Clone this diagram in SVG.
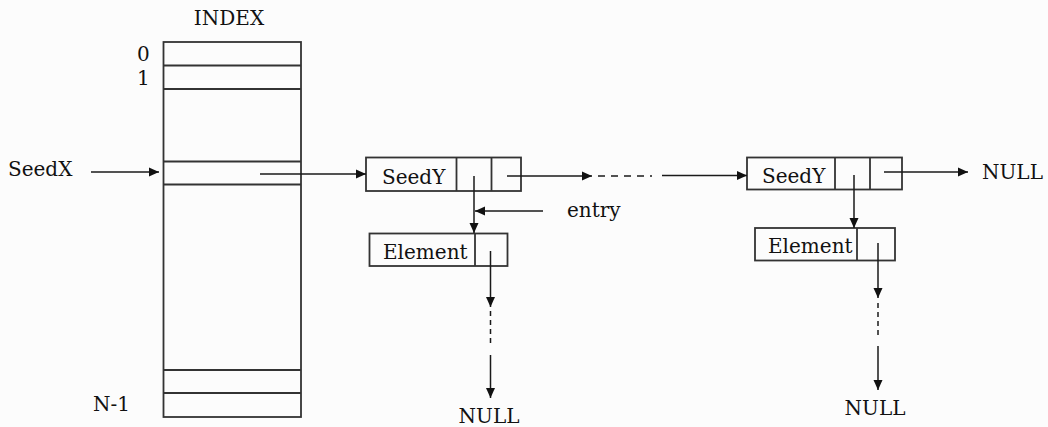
<svg xmlns="http://www.w3.org/2000/svg" width="1048" height="427" viewBox="0 0 1048 427">
<style>
.box{fill:none;stroke:#333;stroke-width:1.8}
.ln{fill:none;stroke:#1a1a1a;stroke-width:1.5}
.dash{fill:none;stroke:#1a1a1a;stroke-width:1.5;stroke-dasharray:7 6}
.vdash{fill:none;stroke:#1a1a1a;stroke-width:1.5;stroke-dasharray:5 4}
text{font-family:"DejaVu Serif","Liberation Serif",serif;font-size:20px;fill:#111}
</style>
<defs>
<marker id="ah" markerUnits="userSpaceOnUse" markerWidth="11" markerHeight="11" refX="10" refY="5" orient="auto">
<path d="M0,0.5 L10,5 L0,9.5 z" fill="#111"/>
</marker>
</defs>
<rect width="1048" height="427" fill="#fcfcfc"/>
<g id="index">
<text x="229" y="25" text-anchor="middle">INDEX</text>
<rect class="box" x="163.5" y="42" width="137.5" height="375"/>
<line class="box" x1="163.5" y1="65.5" x2="301" y2="65.5"/>
<line class="box" x1="163.5" y1="89" x2="301" y2="89"/>
<line class="box" x1="163.5" y1="161.5" x2="301" y2="161.5"/>
<line class="box" x1="163.5" y1="184.5" x2="301" y2="184.5"/>
<line class="box" x1="163.5" y1="370" x2="301" y2="370"/>
<line class="box" x1="163.5" y1="393" x2="301" y2="393"/>
<text x="137" y="61">0</text>
<text x="137" y="85">1</text>
<text x="93" y="411">N-1</text>
</g>
<g id="seedx">
<text x="8" y="176">SeedX</text>
</g>
<g id="seedy1">
<rect class="box" x="366" y="157.5" width="155" height="33.5"/>
<line class="box" x1="456.5" y1="157.5" x2="456.5" y2="191"/>
<line class="box" x1="491.5" y1="157.5" x2="491.5" y2="191"/>
<text x="382" y="183.5">SeedY</text>
</g>
<g id="element1">
<rect class="box" x="369.5" y="233.5" width="138" height="32.5"/>
<line class="box" x1="475" y1="233.5" x2="475" y2="266"/>
<text x="383" y="258.5">Element</text>
</g>
<g id="entry">
<text x="567" y="217">entry</text>
</g>
<g id="seedy2">
<rect class="box" x="747" y="157.5" width="155" height="32"/>
<line class="box" x1="835" y1="157.5" x2="835" y2="189.5"/>
<line class="box" x1="870" y1="157.5" x2="870" y2="189.5"/>
<text x="762" y="183">SeedY</text>
</g>
<g id="element2">
<rect class="box" x="755" y="228" width="140" height="32.5"/>
<line class="box" x1="857" y1="228" x2="857" y2="260.5"/>
<text x="768" y="253">Element</text>
</g>
<g id="null1"><text x="489" y="423" text-anchor="middle">NULL</text></g>
<g id="null2"><text x="875" y="415" text-anchor="middle">NULL</text></g>
<g id="null3"><text x="982" y="179">NULL</text></g>
<g id="connectors">
<line class="ln" x1="91" y1="172" x2="159" y2="172" marker-end="url(#ah)"/>
<line class="ln" x1="260" y1="174" x2="366" y2="174" marker-end="url(#ah)"/>
<line class="ln" x1="507" y1="176" x2="592" y2="176" marker-end="url(#ah)"/>
<line class="dash" x1="598" y1="176" x2="652" y2="176"/>
<line class="ln" x1="662" y1="175.5" x2="747" y2="175.5" marker-end="url(#ah)"/>
<line class="ln" x1="474" y1="176" x2="474" y2="233" marker-end="url(#ah)"/>
<line class="ln" x1="543" y1="211" x2="475" y2="211" marker-end="url(#ah)"/>
<line class="ln" x1="490.5" y1="251" x2="490.5" y2="307" marker-end="url(#ah)"/>
<line class="vdash" x1="490.5" y1="311" x2="490.5" y2="346"/>
<line class="ln" x1="490.5" y1="355" x2="490.5" y2="398" marker-end="url(#ah)"/>
<line class="ln" x1="854" y1="175" x2="854" y2="228" marker-end="url(#ah)"/>
<line class="ln" x1="884" y1="172" x2="968" y2="172" marker-end="url(#ah)"/>
<line class="ln" x1="878" y1="243" x2="878" y2="298" marker-end="url(#ah)"/>
<line class="vdash" x1="878" y1="303" x2="878" y2="338"/>
<line class="ln" x1="878" y1="346" x2="878" y2="390" marker-end="url(#ah)"/>
</g>
</svg>
